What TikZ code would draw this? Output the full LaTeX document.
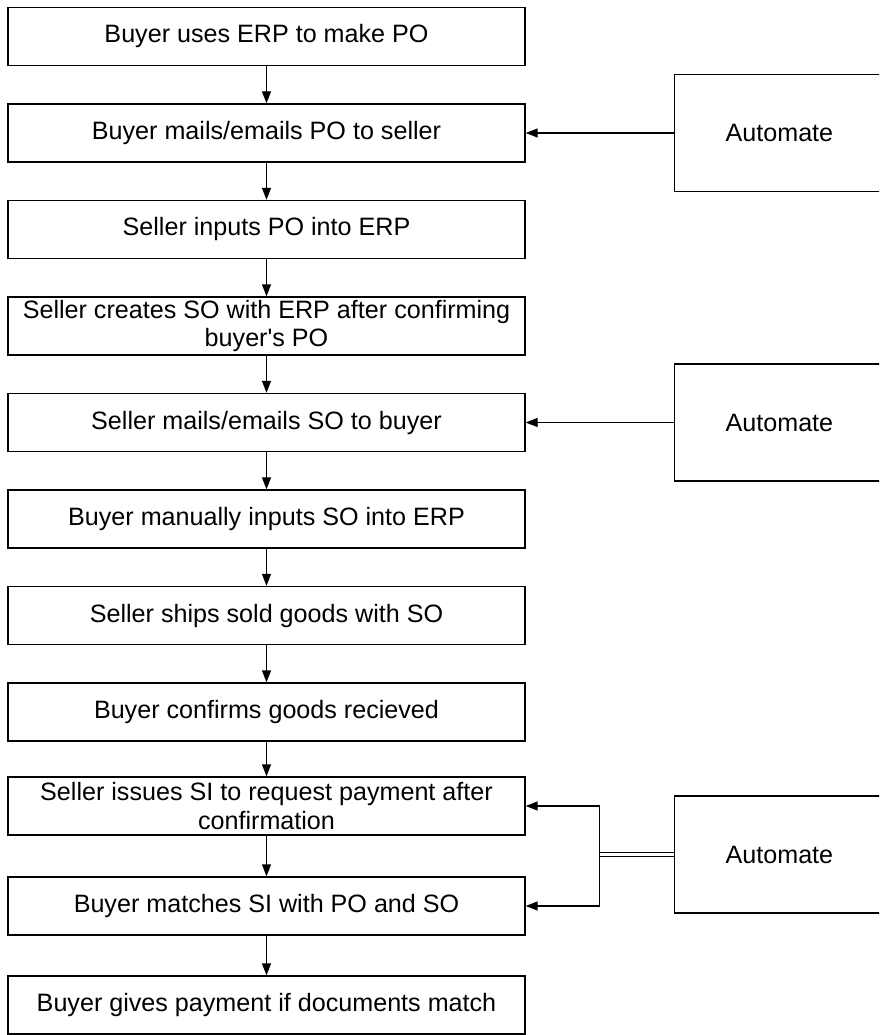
\documentclass[tikz,border=0pt]{standalone}
\usepackage{fontspec}
\setmainfont{Liberation Sans}
\usetikzlibrary{arrows.meta,positioning}
\tikzset{%
  >={Triangle[width=1.8mm,length=2.4mm]},
  % Specifications for style of nodes:
            base/.style = {rectangle, draw=black, line width=0.8pt,
                           text centered, align=center,
                           font=\fontsize{14.3}{16}\selectfont},
       stage/.style = {base, minimum width=10.34cm, minimum height=1.16cm,
                       inner sep=1pt},
    automate/.style = {base, minimum width=4.2cm, minimum height=2.34cm},
}

\begin{document}
\begin{tikzpicture}[node distance=1.93cm, line width=0.8pt]
\clip (0,0) rectangle (17.58,-20.7);
% Specification of nodes (position, etc.)
\node (makepo)   [stage] at (5.33,-0.73)       {Buyer uses ERP to make PO};
\node (mailpo)   [stage, below of=makepo]      {Buyer mails/emails PO to seller};
\node (inputpo)  [stage, below of=mailpo]      {Seller inputs PO into ERP};
\node (makeso)   [stage, below of=inputpo]     {Seller creates SO with ERP after confirming \\ buyer\textquotesingle s PO};
\node (mailso)   [stage, below of=makeso]      {Seller mails/emails SO to buyer};
\node (inputso)  [stage, below of=mailso]      {Buyer manually inputs SO into ERP};
\node (ship)     [stage, below of=inputso]     {Seller ships sold goods with SO};
\node (confirm)  [stage, below of=ship]        {Buyer confirms goods recieved};
\node (issuesi)  [stage, below of=confirm, yshift=0.5mm]
                                               {Seller issues SI to request payment after \\ confirmation};
\node (matchsi)  [stage, below of=issuesi, yshift=-0.7mm]
                                               {Buyer matches SI with PO and SO};
\node (pay)      [stage, below of=matchsi, yshift=-0.5mm]
                                               {Buyer gives payment if documents match};
% automation boxes on the right
\node (autopo)   [automate, right=2.96cm of mailpo]  {Automate};
\node (autoso)   [automate, right=2.96cm of mailso]  {Automate};
\coordinate [below=0.97cm of issuesi.east] (simid);
\node (autosi)   [automate, right=2.96cm of simid]   {Automate};
\coordinate [right=1.48cm of simid] (split);
% Specification of lines between nodes specified above
\draw[->] (makepo) -- (mailpo);
\draw[->] (mailpo) -- (inputpo);
\draw[->] (inputpo) -- (makeso);
\draw[->] (makeso) -- (mailso);
\draw[->] (mailso) -- (inputso);
\draw[->] (inputso) -- (ship);
\draw[->] (ship) -- (confirm);
\draw[->] (confirm) -- (issuesi);
\draw[->] (issuesi) -- (matchsi);
\draw[->] (matchsi) -- (pay);
\draw[->] (autopo.west) -- (mailpo.east);
\draw[->] (autoso.west) -- (mailso.east);
% double line out of the last automate box
\draw[line width=0.5pt, transform canvas={yshift=0.9pt}] (autosi.west) -- (split);
\draw[line width=0.5pt, transform canvas={yshift=-0.9pt}] (autosi.west) -- (split);
\draw[->] (split) |- (issuesi.east);
\draw[->] (split) |- (matchsi.east);
\end{tikzpicture}
\end{document}
